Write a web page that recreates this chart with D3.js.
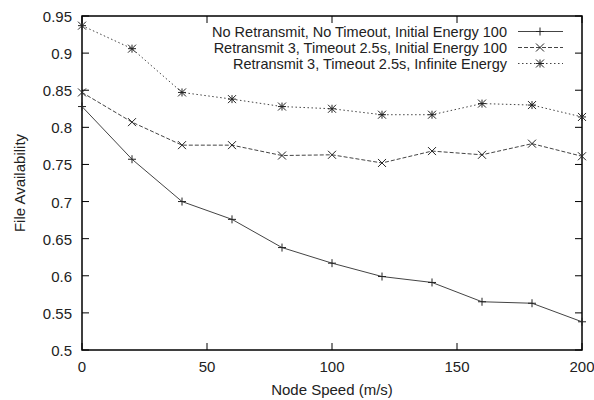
<!DOCTYPE html>
<html>
<head>
<meta charset="utf-8">
<script src="https://cdn.jsdelivr.net/npm/d3@7"></script>
<style>
  body { margin: 0; background: #fff; }
  svg text { font-family: "Liberation Sans", Arial, sans-serif; fill: #222; }
</style>
</head>
<body>
<svg width="594" height="400"></svg>
<script>
// Data
const speeds = [0, 20, 40, 60, 80, 100, 120, 140, 160, 180, 200];
const noRetransmit = [0.828, 0.757, 0.700, 0.676, 0.638, 0.617, 0.599, 0.591, 0.565, 0.563, 0.538];
const retransmitEnergy = [0.847, 0.807, 0.776, 0.776, 0.762, 0.763, 0.752, 0.768, 0.763, 0.778, 0.761];
const retransmitInfinite = [0.937, 0.906, 0.847, 0.838, 0.828, 0.825, 0.817, 0.817, 0.832, 0.830, 0.814];
const seriesNames = [
  "No Retransmit, No Timeout, Initial Energy 100",
  "Retransmit 3, Timeout 2.5s, Initial Energy 100",
  "Retransmit 3, Timeout 2.5s, Infinite Energy"
];
const xTicks = [0, 50, 100, 150, 200];
const yTicks = [0.5, 0.55, 0.6, 0.65, 0.7, 0.75, 0.8, 0.85, 0.9, 0.95];

const svg = d3.select("svg");
const plotL = 82, plotR = 582, plotT = 16, plotB = 350;

const x = d3.scaleLinear().domain([0, 200]).range([plotL, plotR]);
const y = d3.scaleLinear().domain([0.5, 0.95]).range([plotB, plotT]);

const tickLen = 7;
const lineColor = "#444";

// Frame
svg.append("rect")
  .attr("x", plotL).attr("y", plotT)
  .attr("width", plotR - plotL).attr("height", plotB - plotT)
  .attr("fill", "none").attr("stroke", "#000").attr("stroke-width", 1.5);

// Ticks (inward, mirrored like gnuplot)
const ticks = svg.append("g").attr("stroke", "#000").attr("stroke-width", 1);
xTicks.forEach(t => {
  ticks.append("line").attr("x1", x(t)).attr("x2", x(t)).attr("y1", plotB).attr("y2", plotB - tickLen);
  ticks.append("line").attr("x1", x(t)).attr("x2", x(t)).attr("y1", plotT).attr("y2", plotT + tickLen);
});
yTicks.forEach(t => {
  ticks.append("line").attr("x1", plotL).attr("x2", plotL + tickLen).attr("y1", y(t)).attr("y2", y(t));
  ticks.append("line").attr("x1", plotR).attr("x2", plotR - tickLen).attr("y1", y(t)).attr("y2", y(t));
});

// Tick labels
svg.append("g").selectAll("text")
  .data(xTicks).enter().append("text")
  .attr("x", d => x(d)).attr("y", plotB + 22)
  .attr("text-anchor", "middle").attr("font-size", 15)
  .text(d => d);

svg.append("g").selectAll("text")
  .data(yTicks).enter().append("text")
  .attr("x", plotL - 10).attr("y", d => y(d) + 6)
  .attr("text-anchor", "end").attr("font-size", 15)
  .text(d => String(+d.toFixed(2)));

// Axis titles
svg.append("text")
  .attr("x", (plotL + plotR) / 2).attr("y", 395)
  .attr("text-anchor", "middle").attr("font-size", 15)
  .text("Node Speed (m/s)");

svg.append("text")
  .attr("transform", `translate(25,${(plotT + plotB) / 2}) rotate(-90)`)
  .attr("text-anchor", "middle").attr("font-size", 15)
  .text("File Availability");

// Marker shapes
function marker(g, kind, cx, cy) {
  const s = 4;
  const m = g.append("g").attr("stroke", "#222").attr("stroke-width", 1);
  if (kind === 0 || kind === 2) {
    m.append("line").attr("x1", cx - s).attr("x2", cx + s).attr("y1", cy).attr("y2", cy);
    m.append("line").attr("x1", cx).attr("x2", cx).attr("y1", cy - s).attr("y2", cy + s);
  }
  if (kind === 1 || kind === 2) {
    m.append("line").attr("x1", cx - s).attr("x2", cx + s).attr("y1", cy - s).attr("y2", cy + s);
    m.append("line").attr("x1", cx - s).attr("x2", cx + s).attr("y1", cy + s).attr("y2", cy - s);
  }
}

const allSeries = [noRetransmit, retransmitEnergy, retransmitInfinite];
const dashes = [null, "4,2", "1.5,2.5"];

const line = d3.line().x((d, i) => x(speeds[i])).y(d => y(d));

allSeries.forEach((vals, k) => {
  const g = svg.append("g");
  g.append("path")
    .datum(vals)
    .attr("d", line)
    .attr("fill", "none")
    .attr("stroke", lineColor)
    .attr("stroke-width", 1)
    .attr("stroke-dasharray", dashes[k]);
  vals.forEach((v, i) => marker(g, k, x(speeds[i]), y(v)));
});

// Legend
const legendY = [31.5, 47.5, 63.5];
seriesNames.forEach((name, k) => {
  svg.append("text")
    .attr("x", 507).attr("y", legendY[k] + 5)
    .attr("text-anchor", "end").attr("font-size", 14.5)
    .text(name);
  svg.append("line")
    .attr("x1", 518).attr("x2", 563)
    .attr("y1", legendY[k]).attr("y2", legendY[k])
    .attr("stroke", lineColor).attr("stroke-width", 1)
    .attr("stroke-dasharray", dashes[k]);
  marker(svg, k, 540, legendY[k]);
});
</script>
</body>
</html>
